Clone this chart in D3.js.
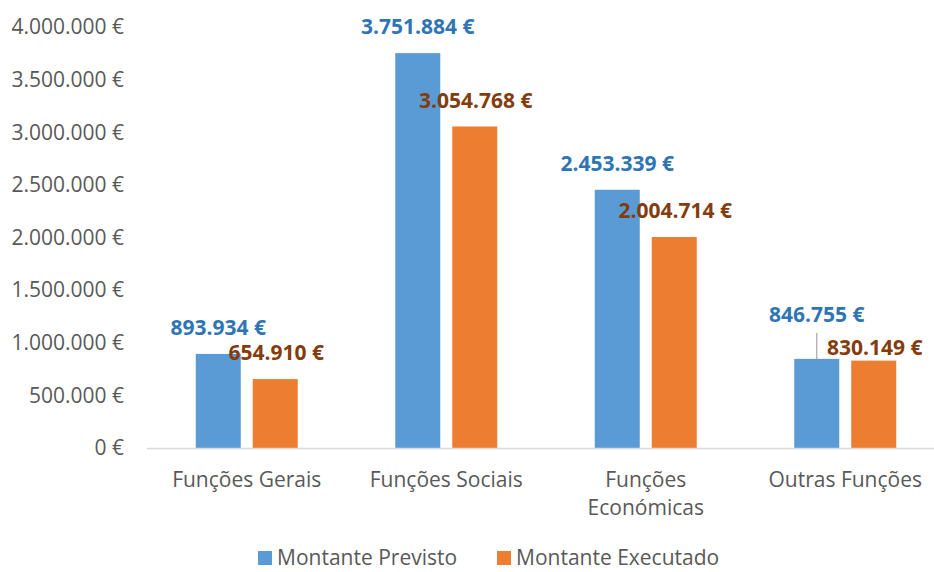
<!DOCTYPE html>
<html>
<head>
<meta charset="utf-8">
<script src="https://cdn.jsdelivr.net/npm/d3@7"></script>
<style>
  body { margin: 0; background: #fff; }
  svg { display: block; font-family: "Open Sans", sans-serif; }
</style>
</head>
<body>
<svg width="934" height="572"></svg>
<script>
var categories = ["Funções Gerais", "Funções Sociais", "Funções Económicas", "Outras Funções"];
var seriesNames = ["Montante Previsto", "Montante Executado"];
var previsto = [893934, 3751884, 2453339, 846755];
var executado = [654910, 3054768, 2004714, 830149];
var yTicks = [0, 500000, 1000000, 1500000, 2000000, 2500000, 3000000, 3500000, 4000000];

var barColors = ["#5B9BD5", "#ED7D31"];
var labelColors = ["#2E75B6", "#843C0C"];

var svg = d3.select("svg");

var locale = d3.formatLocale({ decimal: ",", thousands: ".", grouping: [3], currency: ["", " €"] });
var fmt = locale.format("$,.0f");

var yScale = d3.scaleLinear().domain([0, 4000000]).range([448, 27]);
var x0 = d3.scaleBand().domain(categories).range([147, 945]);
var bw = x0.bandwidth();
var x1 = d3.scaleBand().domain(seriesNames).range([bw / 2 - 51, bw / 2 + 51]).paddingInner(0.21);

var data = categories.map(function(c, i) {
  return { cat: c, values: [previsto[i], executado[i]] };
});

// y axis labels (no line)
svg.append("g").selectAll("text")
  .data(yTicks)
  .enter().append("text")
  .attr("x", 124)
  .attr("y", function(d) { return yScale(d); })
  .attr("dy", "0.35em")
  .attr("text-anchor", "end")
  .attr("font-size", 21)
  .attr("fill", "#595959")
  .text(fmt);

// bars
var groups = svg.append("g").selectAll(".cat")
  .data(data)
  .enter().append("g")
  .attr("class", "cat")
  .attr("transform", function(d) { return "translate(" + x0(d.cat) + ",0)"; });

groups.selectAll("rect")
  .data(function(d) { return d.values.map(function(v, j) { return { s: j, v: v, cat: d.cat }; }); })
  .enter().append("rect")
  .attr("x", function(d) { return x1(seriesNames[d.s]); })
  .attr("y", function(d) { return yScale(d.v); })
  .attr("width", x1.bandwidth())
  .attr("height", function(d) { return yScale(0) - yScale(d.v); })
  .attr("fill", function(d) { return barColors[d.s]; });

// x axis line
svg.append("line")
  .attr("x1", 147).attr("x2", 934)
  .attr("y1", yScale(0) + 0.5).attr("y2", yScale(0) + 0.5)
  .attr("stroke", "#D9D9D9").attr("stroke-width", 1.5);

// data labels
function labelOffset(d) {
  if (d.cat === "Outras Funções") return d.s === 0 ? 44 : 13;
  return 26;
}

groups.each(function(d) {
  var g = d3.select(this);
  d.values.forEach(function(v, j) {
    var cx = x1(seriesNames[j]) + x1.bandwidth() / 2;
    var cy = yScale(v) - labelOffset({ cat: d.cat, s: j });
    if (d.cat === "Outras Funções" && j === 0) {
      g.append("line")
        .attr("x1", cx).attr("x2", cx)
        .attr("y1", cy + 18).attr("y2", yScale(v))
        .attr("stroke", "#A6A6A6").attr("stroke-width", 1.2);
    }
    g.append("text")
      .attr("x", cx + (j === 1 ? 1 : 0))
      .attr("y", cy)
      .attr("dy", "0.35em")
      .attr("text-anchor", "middle")
      .attr("font-size", 21)
      .attr("font-weight", "bold")
      .attr("fill", labelColors[j])
      .text(fmt(v));
  });
});

// category labels
var catLines = {
  "Funções Económicas": ["Funções", "Económicas"]
};
svg.append("g").selectAll("text")
  .data(categories)
  .enter().append("text")
  .attr("text-anchor", "middle")
  .attr("font-size", 21)
  .attr("fill", "#595959")
  .each(function(c) {
    var lines = catLines[c] || [c];
    var t = d3.select(this);
    lines.forEach(function(l, k) {
      t.append("tspan")
        .attr("x", x0(c) + bw / 2)
        .attr("y", 480 + k * 28)
        .attr("dy", "0.35em")
        .text(l);
    });
  });

// legend
var legendX = [258, 497];
var legend = svg.append("g").selectAll("g")
  .data(seriesNames)
  .enter().append("g")
  .attr("transform", function(d, i) { return "translate(" + legendX[i] + ",558)"; });

legend.append("rect")
  .attr("x", 0).attr("y", -7)
  .attr("width", 14).attr("height", 14)
  .attr("fill", function(d, i) { return barColors[i]; });

legend.append("text")
  .attr("x", 19)
  .attr("y", 0)
  .attr("dy", "0.35em")
  .attr("font-size", 21)
  .attr("fill", "#595959")
  .text(function(d) { return d; });
</script>
</body>
</html>
